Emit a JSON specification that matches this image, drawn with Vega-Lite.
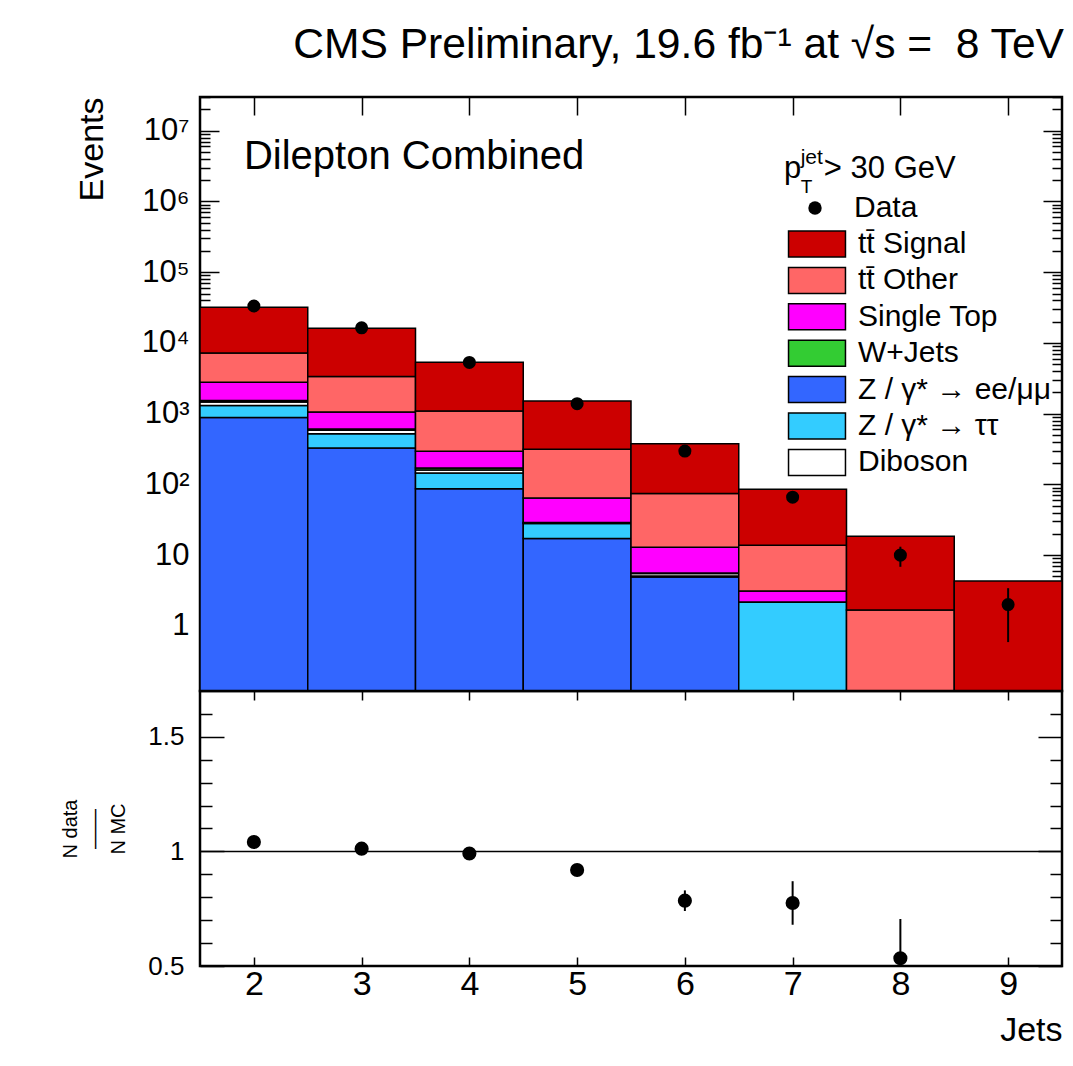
{
  "$schema": "https://vega.github.io/schema/vega-lite/v6.json",
  "background": "white",
  "padding": {"left": 59, "top": 24, "right": 8, "bottom": 5},
  "title": {"text": "CMS Preliminary, 19.6 fb⁻¹ at √s = \u00a08 TeV", "anchor": "end", "fontSize": 42.6, "fontWeight": "normal", "font": "Liberation Sans", "color": "black", "offset": 13},
  "config": {
    "font": "Liberation Sans",
    "view": {"stroke": "black", "strokeWidth": 2.5},
    "axis": {"domain": false, "grid": false, "tickColor": "black", "tickWidth": 1.5, "labelColor": "black", "titleColor": "black", "labelFont": "Liberation Sans", "titleFont": "Liberation Sans", "titleFontWeight": "normal", "labelOverlap": false, "labelFlush": false, "labelBound": false}
  },
  "datasets": {
    "mc": [
      {"bin": 2, "lo": 1.5, "hi": 2.5, "cat": "Z / γ* → ee/μμ", "ord": 1, "n": 880},
      {"bin": 2, "lo": 1.5, "hi": 2.5, "cat": "Z / γ* → ττ", "ord": 2, "n": 430},
      {"bin": 2, "lo": 1.5, "hi": 2.5, "cat": "Diboson", "ord": 3, "n": 150},
      {"bin": 2, "lo": 1.5, "hi": 2.5, "cat": "W+Jets", "ord": 4, "n": 80},
      {"bin": 2, "lo": 1.5, "hi": 2.5, "cat": "Single Top", "ord": 5, "n": 1250},
      {"bin": 2, "lo": 1.5, "hi": 2.5, "cat": "tt̄ Other", "ord": 6, "n": 4390},
      {"bin": 2, "lo": 1.5, "hi": 2.5, "cat": "tt̄ Signal", "ord": 7, "n": 24820},
      {"bin": 3, "lo": 2.5, "hi": 3.5, "cat": "Z / γ* → ee/μμ", "ord": 1, "n": 326},
      {"bin": 3, "lo": 2.5, "hi": 3.5, "cat": "Z / γ* → ττ", "ord": 2, "n": 195},
      {"bin": 3, "lo": 2.5, "hi": 3.5, "cat": "Diboson", "ord": 3, "n": 60},
      {"bin": 3, "lo": 2.5, "hi": 3.5, "cat": "W+Jets", "ord": 4, "n": 24},
      {"bin": 3, "lo": 2.5, "hi": 3.5, "cat": "Single Top", "ord": 5, "n": 449},
      {"bin": 3, "lo": 2.5, "hi": 3.5, "cat": "tt̄ Other", "ord": 6, "n": 2311},
      {"bin": 3, "lo": 2.5, "hi": 3.5, "cat": "tt̄ Signal", "ord": 7, "n": 12815},
      {"bin": 4, "lo": 3.5, "hi": 4.5, "cat": "Z / γ* → ee/μμ", "ord": 1, "n": 87},
      {"bin": 4, "lo": 3.5, "hi": 4.5, "cat": "Z / γ* → ττ", "ord": 2, "n": 58},
      {"bin": 4, "lo": 3.5, "hi": 4.5, "cat": "Diboson", "ord": 3, "n": 15},
      {"bin": 4, "lo": 3.5, "hi": 4.5, "cat": "W+Jets", "ord": 4, "n": 10},
      {"bin": 4, "lo": 3.5, "hi": 4.5, "cat": "Single Top", "ord": 5, "n": 124},
      {"bin": 4, "lo": 3.5, "hi": 4.5, "cat": "tt̄ Other", "ord": 6, "n": 794},
      {"bin": 4, "lo": 3.5, "hi": 4.5, "cat": "tt̄ Signal", "ord": 7, "n": 4267},
      {"bin": 5, "lo": 4.5, "hi": 5.5, "cat": "Z / γ* → ee/μμ", "ord": 1, "n": 17.2},
      {"bin": 5, "lo": 4.5, "hi": 5.5, "cat": "Z / γ* → ττ", "ord": 2, "n": 10.7},
      {"bin": 5, "lo": 4.5, "hi": 5.5, "cat": "Diboson", "ord": 3, "n": 0.6},
      {"bin": 5, "lo": 4.5, "hi": 5.5, "cat": "W+Jets", "ord": 4, "n": 0.4},
      {"bin": 5, "lo": 4.5, "hi": 5.5, "cat": "Single Top", "ord": 5, "n": 35.3},
      {"bin": 5, "lo": 4.5, "hi": 5.5, "cat": "tt̄ Other", "ord": 6, "n": 249},
      {"bin": 5, "lo": 4.5, "hi": 5.5, "cat": "tt̄ Signal", "ord": 7, "n": 1194},
      {"bin": 6, "lo": 5.5, "hi": 6.5, "cat": "Z / γ* → ee/μμ", "ord": 1, "n": 4.9},
      {"bin": 6, "lo": 5.5, "hi": 6.5, "cat": "Z / γ* → ττ", "ord": 2, "n": 0.15},
      {"bin": 6, "lo": 5.5, "hi": 6.5, "cat": "Diboson", "ord": 3, "n": 0.45},
      {"bin": 6, "lo": 5.5, "hi": 6.5, "cat": "W+Jets", "ord": 4, "n": 0.1},
      {"bin": 6, "lo": 5.5, "hi": 6.5, "cat": "Single Top", "ord": 5, "n": 7.3},
      {"bin": 6, "lo": 5.5, "hi": 6.5, "cat": "tt̄ Other", "ord": 6, "n": 61.2},
      {"bin": 6, "lo": 5.5, "hi": 6.5, "cat": "tt̄ Signal", "ord": 7, "n": 303},
      {"bin": 7, "lo": 6.5, "hi": 7.5, "cat": "Z / γ* → ee/μμ", "ord": 1, "n": 0},
      {"bin": 7, "lo": 6.5, "hi": 7.5, "cat": "Z / γ* → ττ", "ord": 2, "n": 2.18},
      {"bin": 7, "lo": 6.5, "hi": 7.5, "cat": "Diboson", "ord": 3, "n": 0},
      {"bin": 7, "lo": 6.5, "hi": 7.5, "cat": "W+Jets", "ord": 4, "n": 0},
      {"bin": 7, "lo": 6.5, "hi": 7.5, "cat": "Single Top", "ord": 5, "n": 0.94},
      {"bin": 7, "lo": 6.5, "hi": 7.5, "cat": "tt̄ Other", "ord": 6, "n": 10.7},
      {"bin": 7, "lo": 6.5, "hi": 7.5, "cat": "tt̄ Signal", "ord": 7, "n": 71.5},
      {"bin": 8, "lo": 7.5, "hi": 8.5, "cat": "Z / γ* → ee/μμ", "ord": 1, "n": 0},
      {"bin": 8, "lo": 7.5, "hi": 8.5, "cat": "Z / γ* → ττ", "ord": 2, "n": 0},
      {"bin": 8, "lo": 7.5, "hi": 8.5, "cat": "Diboson", "ord": 3, "n": 0},
      {"bin": 8, "lo": 7.5, "hi": 8.5, "cat": "W+Jets", "ord": 4, "n": 0},
      {"bin": 8, "lo": 7.5, "hi": 8.5, "cat": "Single Top", "ord": 5, "n": 0},
      {"bin": 8, "lo": 7.5, "hi": 8.5, "cat": "tt̄ Other", "ord": 6, "n": 1.67},
      {"bin": 8, "lo": 7.5, "hi": 8.5, "cat": "tt̄ Signal", "ord": 7, "n": 16.8},
      {"bin": 9, "lo": 8.5, "hi": 9.5, "cat": "Z / γ* → ee/μμ", "ord": 1, "n": 0},
      {"bin": 9, "lo": 8.5, "hi": 9.5, "cat": "Z / γ* → ττ", "ord": 2, "n": 0},
      {"bin": 9, "lo": 8.5, "hi": 9.5, "cat": "Diboson", "ord": 3, "n": 0},
      {"bin": 9, "lo": 8.5, "hi": 9.5, "cat": "W+Jets", "ord": 4, "n": 0},
      {"bin": 9, "lo": 8.5, "hi": 9.5, "cat": "Single Top", "ord": 5, "n": 0},
      {"bin": 9, "lo": 8.5, "hi": 9.5, "cat": "tt̄ Other", "ord": 6, "n": 0},
      {"bin": 9, "lo": 8.5, "hi": 9.5, "cat": "tt̄ Signal", "ord": 7, "n": 4.32}
    ],
    "obs": [
      {"bin": 2, "n": 33300, "elo": 33120, "ehi": 33480, "r": 1.041, "rlo": 1.035, "rhi": 1.047},
      {"bin": 3, "n": 16380, "elo": 16250, "ehi": 16510, "r": 1.012, "rlo": 1.004, "rhi": 1.020},
      {"bin": 4, "n": 5300, "elo": 5227, "ehi": 5373, "r": 0.991, "rlo": 0.977, "rhi": 1.005},
      {"bin": 5, "n": 1385, "elo": 1348, "ehi": 1422, "r": 0.919, "rlo": 0.894, "rhi": 0.944},
      {"bin": 6, "n": 296, "elo": 279, "ehi": 313, "r": 0.785, "rlo": 0.740, "rhi": 0.830},
      {"bin": 7, "n": 66, "elo": 57.9, "ehi": 74.1, "r": 0.775, "rlo": 0.680, "rhi": 0.870},
      {"bin": 8, "n": 10, "elo": 6.84, "ehi": 13.16, "r": 0.534, "rlo": 0.363, "rhi": 0.705},
      {"bin": 9, "n": 2, "elo": 0.59, "ehi": 3.41, "r": null, "rlo": null, "rhi": null}
    ]
  },
  "spacing": 0,
  "bounds": "flush",
  "vconcat": [
    {
      "width": 862,
      "height": 594,
      "layer": [
        {
          "data": {"name": "mc"},
          "transform": [{"stack": "n", "groupby": ["bin"], "sort": [{"field": "ord", "order": "ascending"}], "as": ["y0", "y1"]}],
          "mark": {"type": "rect", "stroke": "black", "strokeWidth": 1.5, "clip": true, "invalid": null},
          "encoding": {
            "x": {"field": "lo", "type": "quantitative", "scale": {"domain": [1.5, 9.5], "nice": false, "zero": false},
                  "axis": {"orient": "bottom", "values": [2, 3, 4, 5, 6, 7, 8, 9], "labels": false, "tickSize": -22, "title": null}},
            "x2": {"field": "hi"},
            "y": {"field": "y1", "type": "quantitative", "scale": {"type": "log", "domain": [0.12, 30000000], "nice": false, "clamp": true},
                  "axis": {"orient": "left",
                    "values": [0.2,0.3,0.4,0.5,0.6,0.7,0.8,0.9,1,2,3,4,5,6,7,8,9,10,20,30,40,50,60,70,80,90,100,200,300,400,500,600,700,800,900,1000,2000,3000,4000,5000,6000,7000,8000,9000,10000,20000,30000,40000,50000,60000,70000,80000,90000,100000,200000,300000,400000,500000,600000,700000,800000,900000,1000000,2000000,3000000,4000000,5000000,6000000,7000000,8000000,9000000,10000000,20000000,30000000],
                    "labelExpr": "abs(log(datum.value)/LN10 - round(log(datum.value)/LN10)) < 0.001 ? (datum.value < 50 ? format(datum.value, 'd') : '10' + ['','','²','³','⁴','⁵','⁶','⁷'][round(log(datum.value)/LN10)]) : ''",
                    "tickSize": {"condition": {"test": "abs(log(datum.value)/LN10 - round(log(datum.value)/LN10)) < 0.001", "value": -19}, "value": -10},
                    "labelFontSize": 31, "labelPadding": 30,
                    "title": "Events", "titleFontSize": 34, "titleAnchor": "end", "titlePadding": 32}},
            "y2": {"field": "y0"},
            "fill": {"field": "cat", "type": "nominal",
                     "scale": {"domain": ["tt̄ Signal", "tt̄ Other", "Single Top", "W+Jets", "Z / γ* → ee/μμ", "Z / γ* → ττ", "Diboson"],
                               "range": ["#cc0000", "#ff6666", "#ff00ff", "#33cc33", "#3366ff", "#33ccff", "#ffffff"]},
                     "legend": {"orient": "none", "legendX": 602, "legendY": 132, "title": null, "symbolType": "M-2.19,-1H2.19V1H-2.19Z", "symbolSize": 676, "symbolStrokeColor": "black", "symbolStrokeWidth": 1.5, "symbolOpacity": 1, "labelFontSize": 30, "labelOffset": 26, "rowPadding": 4.4, "labelLimit": 400, "labelColor": "black", "labelFont": "Liberation Sans"}}
          }
        },
        {
          "data": {"name": "obs"},
          "mark": {"type": "rule", "strokeWidth": 2, "color": "black"},
          "encoding": {
            "x": {"field": "bin", "type": "quantitative", "axis": null},
            "y": {"field": "elo", "type": "quantitative", "axis": null},
            "y2": {"field": "ehi"}
          }
        },
        {
          "data": {"name": "obs"},
          "mark": {"type": "point", "filled": true, "color": "black", "size": 170, "opacity": 1},
          "encoding": {
            "x": {"field": "bin", "type": "quantitative", "axis": {"orient": "top", "values": [2, 3, 4, 5, 6, 7, 8, 9], "labels": false, "tickSize": -18, "title": null}},
            "y": {"field": "n", "type": "quantitative",
                  "axis": {"orient": "right",
                    "values": [0.2,0.3,0.4,0.5,0.6,0.7,0.8,0.9,1,2,3,4,5,6,7,8,9,10,20,30,40,50,60,70,80,90,100,200,300,400,500,600,700,800,900,1000,2000,3000,4000,5000,6000,7000,8000,9000,10000,20000,30000,40000,50000,60000,70000,80000,90000,100000,200000,300000,400000,500000,600000,700000,800000,900000,1000000,2000000,3000000,4000000,5000000,6000000,7000000,8000000,9000000,10000000,20000000,30000000],
                    "labels": false, "title": null,
                    "tickSize": {"condition": {"test": "abs(log(datum.value)/LN10 - round(log(datum.value)/LN10)) < 0.001", "value": -19}, "value": -10}}},
            "shape": {"datum": "Data", "scale": {"range": ["circle"]},
                      "legend": {"orient": "none", "legendX": 600, "legendY": 96, "title": null, "symbolFillColor": "black", "symbolStrokeColor": "black", "symbolSize": 180, "labelFontSize": 30, "labelOffset": 24, "labelColor": "black", "labelFont": "Liberation Sans"}}
          }
        },
        {
          "data": {"values": [{"t": "Dilepton Combined"}]},
          "mark": {"type": "text", "align": "left", "baseline": "alphabetic", "fontSize": 40, "color": "black"},
          "encoding": {"text": {"field": "t"}, "x": {"datum": 1.908, "type": "quantitative", "axis": null}, "y": {"datum": 2920000, "type": "quantitative", "axis": null}}
        },
        {
          "data": {"values": [{"t": "p"}]},
          "mark": {"type": "text", "align": "left", "baseline": "alphabetic", "fontSize": 31, "color": "black"},
          "encoding": {"text": {"field": "t"}, "x": {"datum": 6.92, "type": "quantitative", "axis": null}, "y": {"datum": 2170000, "type": "quantitative", "axis": null}}
        },
        {
          "data": {"values": [{"t": "jet"}]},
          "mark": {"type": "text", "align": "left", "baseline": "alphabetic", "fontSize": 21, "color": "black"},
          "encoding": {"text": {"field": "t"}, "x": {"datum": 7.075, "type": "quantitative", "axis": null}, "y": {"datum": 3430000, "type": "quantitative", "axis": null}}
        },
        {
          "data": {"values": [{"t": "T"}]},
          "mark": {"type": "text", "align": "left", "baseline": "alphabetic", "fontSize": 19, "color": "black"},
          "encoding": {"text": {"field": "t"}, "x": {"datum": 7.075, "type": "quantitative", "axis": null}, "y": {"datum": 1330000, "type": "quantitative", "axis": null}}
        },
        {
          "data": {"values": [{"t": "> 30 GeV"}]},
          "mark": {"type": "text", "align": "left", "baseline": "alphabetic", "fontSize": 31, "color": "black"},
          "encoding": {"text": {"field": "t"}, "x": {"datum": 7.29, "type": "quantitative", "axis": null}, "y": {"datum": 2170000, "type": "quantitative", "axis": null}}
        }
      ],
      "resolve": {"axis": {"x": "independent", "y": "independent"}}
    },
    {
      "width": 862,
      "height": 275,
      "layer": [
        {
          "data": {"name": "obs"},
          "mark": {"type": "rule", "strokeWidth": 2, "color": "black", "clip": true},
          "encoding": {
            "x": {"field": "bin", "type": "quantitative", "scale": {"domain": [1.5, 9.5], "nice": false, "zero": false},
                  "axis": {"orient": "bottom", "values": [2, 3, 4, 5, 6, 7, 8, 9], "tickSize": -9, "labelFontSize": 34, "labelPadding": 10, "title": "Jets", "titleFontSize": 34, "titleAnchor": "end", "titlePadding": 12}},
            "y": {"field": "rlo", "type": "quantitative", "scale": {"domain": [0.5, 1.7], "nice": false, "zero": false},
                  "axis": {"orient": "left", "values": [0.5,0.6,0.7,0.8,0.9,1,1.1,1.2,1.3,1.4,1.5,1.6],
                    "labelExpr": "abs(datum.value*2 - round(datum.value*2)) < 0.001 ? (abs(datum.value - 1) < 0.001 ? '1' : format(datum.value, '.1f')) : ''",
                    "tickSize": {"condition": {"test": "abs(datum.value*2 - round(datum.value*2)) < 0.001", "value": -24}, "value": -12},
                    "labelFontSize": 26, "labelPadding": 40,
                    "title": ["N data", "——", "N MC"], "titleFontSize": 20, "titleLineHeight": 24, "titleAnchor": "middle", "titlePadding": 19}},
            "y2": {"field": "rhi"}
          }
        },
        {
          "data": {"values": [{"ref": 1}]},
          "mark": {"type": "rule", "strokeWidth": 1.5, "color": "black"},
          "encoding": {
            "y": {"field": "ref", "type": "quantitative", "axis": null},
            "x": {"datum": 1.5, "type": "quantitative", "axis": null},
            "x2": {"datum": 9.5}
          }
        },
        {
          "data": {"name": "obs"},
          "mark": {"type": "point", "filled": true, "color": "black", "size": 200, "opacity": 1},
          "encoding": {
            "x": {"field": "bin", "type": "quantitative", "axis": {"orient": "top", "values": [2, 3, 4, 5, 6, 7, 8, 9], "labels": false, "tickSize": -9, "title": null}},
            "y": {"field": "r", "type": "quantitative",
                  "axis": {"orient": "right", "values": [0.5,0.6,0.7,0.8,0.9,1,1.1,1.2,1.3,1.4,1.5,1.6], "labels": false, "title": null,
                    "tickSize": {"condition": {"test": "abs(datum.value*2 - round(datum.value*2)) < 0.001", "value": -24}, "value": -12}}}
          }
        }
      ],
      "resolve": {"axis": {"x": "independent", "y": "independent"}}
    }
  ]
}
